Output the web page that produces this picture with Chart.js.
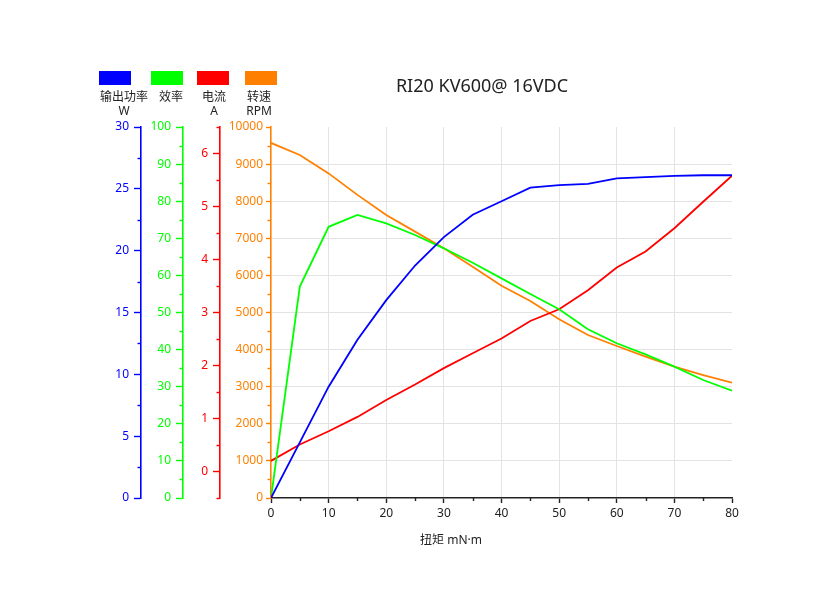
<!DOCTYPE html>
<html>
<head>
<meta charset="utf-8">
<script src="https://cdn.jsdelivr.net/npm/chart.js@4/dist/chart.umd.min.js"></script>
<style>
  html, body { margin: 0; padding: 0; background: #fff; }
  canvas { display: block; }
</style>
</head>
<body>
<canvas id="motor-chart" width="840" height="600"></canvas>
<script>
/* =========================
   Data
========================= */
const torque = [0, 5, 10, 15, 20, 25, 30, 35, 40, 45, 50, 55, 60, 65, 70, 75, 80];
const powerW = [0, 4.5, 9.0, 12.8, 16.0, 18.8, 21.1, 22.9, 24.0, 25.1, 25.3, 25.4, 25.85, 25.95, 26.05, 26.1, 26.1];
const efficiency = [0, 57.0, 73.1, 76.3, 74.0, 70.9, 67.3, 63.4, 59.2, 55.0, 50.9, 45.5, 41.7, 38.7, 35.4, 31.8, 28.9];
const currentA = [0.2, 0.51, 0.76, 1.03, 1.35, 1.64, 1.95, 2.23, 2.51, 2.84, 3.06, 3.42, 3.85, 4.15, 4.59, 5.09, 5.58];
const speedRPM = [9570, 9245, 8750, 8170, 7630, 7180, 6730, 6235, 5720, 5310, 4816, 4394, 4097, 3809, 3540, 3315, 3108];

const xTicks = [0, 10, 20, 30, 40, 50, 60, 70, 80];
const powerTicks = [0, 5, 10, 15, 20, 25, 30];
const effTicks = [0, 10, 20, 30, 40, 50, 60, 70, 80, 90, 100];
const currentTicks = [0, 1, 2, 3, 4, 5, 6];
const speedTicks = [0, 1000, 2000, 3000, 4000, 5000, 6000, 7000, 8000, 9000, 10000];

const seriesNames = ["输出功率", "效率", "电流", "转速"];
const seriesUnits = ["W", "", "A", "RPM"];
const seriesColors = ["#0000ff", "#00ff00", "#ff0000", "#ff8000"];
const chartTitle = "RI20 KV600@ 16VDC";
const xTitle = "扭矩 mN·m";

/* =========================
   Helpers
========================= */
const FONT = "'Noto Sans', 'Noto Sans CJK SC', sans-serif";
const GRID = "#e3e3e3";

function pairs(ys) {
  return torque.map((t, i) => ({ x: t, y: ys[i] }));
}

function fixedTicks(list) {
  return scale => { scale.ticks = list.map(v => ({ value: v })); };
}

function fixedWidth(w) {
  return scale => { scale.width = w; };
}

const plainLabel = v => String(v);

function yAxis(color, min, max, list, width, weight, extra) {
  return Object.assign({
    position: "left",
    weight,
    min,
    max,
    afterBuildTicks: fixedTicks(list),
    afterFit: fixedWidth(width),
    border: { display: true, color, width: 1.6 },
    grid: { drawOnChartArea: false, tickColor: color, tickLength: 7, tickWidth: 1.4 },
    ticks: { color, padding: 5, callback: plainLabel, font: { family: FONT, size: 12 } },
    minorTicks: list
  }, extra || {});
}

/* =========================
   Plugin: minor ticks, title, legend boxes
========================= */
const decorPlugin = {
  id: "decor",
  afterDraw(chart) {
    const ctx = chart.ctx;
    ctx.save();

    // minor ticks halfway between the major ones
    Object.values(chart.scales).forEach(scale => {
      const list = scale.options.minorTicks;
      if (!list) return;
      const step = list[1] - list[0];
      ctx.strokeStyle = scale.options.grid.tickColor;
      ctx.lineWidth = 1.4;
      for (let v = list[0] - step / 2; v <= scale.max + 1e-9; v += step) {
        if (v < scale.min - 1e-9) continue;
        const p = Math.round(scale.getPixelForValue(v)) + 0.5;
        ctx.beginPath();
        if (scale.isHorizontal()) {
          ctx.moveTo(p, scale.top);
          ctx.lineTo(p, scale.top + 3);
        } else {
          ctx.moveTo(scale.right, p);
          ctx.lineTo(scale.right - 3.5, p);
        }
        ctx.stroke();
      }
    });

    // chart title
    ctx.fillStyle = "#222";
    ctx.font = `18px ${FONT}`;
    ctx.textAlign = "center";
    ctx.textBaseline = "middle";
    ctx.fillText(chartTitle, 482, 87);

    // x axis title
    ctx.font = `12px ${FONT}`;
    ctx.fillText(xTitle, 451, 541);

    // legend boxes with names/units
    const boxX = [99, 151, 197, 245];
    const nameX = [124, 171, 214, 259];
    seriesColors.forEach((c, i) => {
      ctx.fillStyle = c;
      ctx.fillRect(boxX[i], 71, 32, 14);
      ctx.fillStyle = "#222";
      ctx.font = `12px ${FONT}`;
      ctx.fillText(seriesNames[i], nameX[i], 98);
      if (seriesUnits[i]) ctx.fillText(seriesUnits[i], nameX[i], 112);
    });

    ctx.restore();
  }
};

/* =========================
   Chart
========================= */
const line = (label, ys, color, axis) => ({
  label,
  data: pairs(ys),
  yAxisID: axis,
  borderColor: color,
  backgroundColor: color,
  borderWidth: 1.8,
  pointRadius: 0,
  tension: 0
});

new Chart(document.getElementById("motor-chart"), {
  type: "line",
  data: {
    datasets: [
      line(seriesNames[0], powerW, seriesColors[0], "yPower"),
      line(seriesNames[1], efficiency, seriesColors[1], "yEff"),
      line(seriesNames[2], currentA, seriesColors[2], "yCur"),
      line(seriesNames[3], speedRPM, seriesColors[3], "ySpeed")
    ]
  },
  options: {
    responsive: false,
    animation: false,
    layout: { padding: { left: 100, right: 108, top: 127, bottom: 62 } },
    plugins: {
      legend: { display: false },
      title: { display: false },
      tooltip: { enabled: false }
    },
    scales: {
      x: {
        type: "linear",
        min: 0,
        max: 80,
        afterBuildTicks: fixedTicks(xTicks),
        afterFit: scale => { scale.height = 40; },
        border: { display: true, color: "#222", width: 1.6 },
        grid: {
          color: c => (c.tick && (c.tick.value === 0 || c.tick.value === 80)) ? "rgba(0,0,0,0)" : GRID,
          tickColor: "#222",
          tickLength: 5,
          tickWidth: 1.4
        },
        ticks: { color: "#222", padding: 3, callback: plainLabel, font: { family: FONT, size: 12 } },
        minorTicks: xTicks
      },
      yPower: yAxis(seriesColors[0], 0, 30, powerTicks, 41, 4),
      yEff: yAxis(seriesColors[1], 0, 100, effTicks, 42, 3),
      yCur: yAxis(seriesColors[2], -0.5, 6.5, currentTicks, 37, 2),
      ySpeed: yAxis(seriesColors[3], 0, 10000, speedTicks, 51, 1, {
        grid: {
          drawOnChartArea: true,
          color: c => (c.tick && (c.tick.value === 0 || c.tick.value === 10000)) ? "rgba(0,0,0,0)" : GRID,
          tickColor: seriesColors[3],
          tickLength: 5,
          tickWidth: 1.4
        },
        ticks: { color: seriesColors[3], padding: 3, callback: plainLabel, font: { family: FONT, size: 12 } }
      })
    }
  },
  plugins: [decorPlugin]
});
</script>
</body>
</html>
